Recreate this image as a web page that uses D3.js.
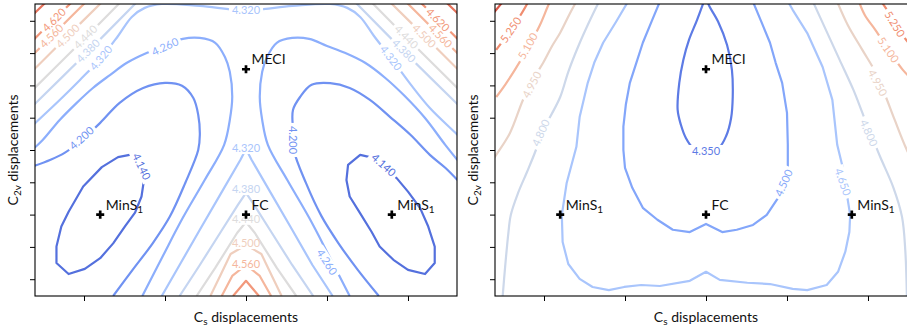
<!DOCTYPE html>
<html>
<head>
<meta charset="utf-8">
<script src="https://cdn.jsdelivr.net/npm/d3@7"></script>
<style>
  body { margin: 0; background: #fff; }
  text { font-family: Lato, "DejaVu Sans", sans-serif; }
</style>
</head>
<body>
<svg id="chart" width="907" height="329"></svg>
<script>
// ---- data (displacement units, x ticks -2..2, y ticks -2..6) ----
const xTicks = [-2, -1, 0, 1, 2];
const yTicks = [-2, -1, 0, 1, 2, 3, 4, 5, 6];
const points = [
  { name: "MECI", x: 0, y: 4.5 },
  { name: "FC", x: 0, y: 0 },
  { name: "MinS", sub: "1", x: -1.8, y: 0 },
  { name: "MinS", sub: "1", x: 1.8, y: 0 }
];

// left panel contours (energy levels 4.140 ... 4.680)
const L4140a = [[-1.39,1.87],[-1.58,1.78],[-1.78,1.47],[-2.01,0.87],[-2.19,0.09],[-2.28,-0.37],[-2.34,-0.99],[-2.34,-1.50],[-2.19,-1.84],[-1.99,-1.68],[-1.80,-1.35],[-1.64,-0.89],[-1.49,-0.35],[-1.37,0.06],[-1.29,0.56],[-1.26,1.07]];
const L4140b = [[1.86,1.13],[2.00,0.71],[2.15,0.20],[2.25,-0.37],[2.33,-0.99],[2.33,-1.50],[2.21,-1.84],[2.00,-1.71],[1.82,-1.40],[1.65,-0.99],[1.55,-0.53],[1.41,0.04],[1.28,0.56],[1.24,1.07],[1.26,1.54],[1.41,1.85],[1.53,1.78]];
const L4200a = [[-2.61,1.51],[-2.42,1.69],[-2.24,1.91],[-2.03,2.31],[-1.80,2.84],[-1.56,3.46],[-1.27,3.92],[-1.00,4.08],[-0.79,3.99],[-0.65,3.61],[-0.59,3.09],[-0.57,2.47],[-0.59,2.00],[-0.75,0.98],[-0.94,-0.06],[-1.15,-0.88],[-1.40,-1.71],[-1.64,-2.52]];
const L4200b = [[2.61,1.07],[2.46,1.45],[2.27,1.85],[2.03,2.47],[1.78,3.02],[1.53,3.55],[1.28,3.92],[1.04,4.07],[0.81,4.02],[0.67,3.65],[0.58,3.24],[0.58,2.62],[0.59,2.00],[0.74,0.98],[0.93,-0.04],[1.14,-0.88],[1.38,-1.71],[1.64,-2.52]];
const L4260a = [[-2.61,2.07],[-2.51,2.31],[-2.30,2.93],[-2.09,3.46],[-1.89,3.92],[-1.68,4.32],[-1.47,4.70],[-1.22,5.01],[-1.00,5.22],[-0.78,5.44],[-0.57,5.47],[-0.38,5.32],[-0.26,4.88],[-0.20,4.42],[-0.17,3.64],[-0.20,2.93],[-0.27,2.16],[-0.51,1.07],[-0.78,-0.10],[-1.02,-1.25],[-1.28,-2.52]];
const L4260b = [[2.61,1.69],[2.46,2.16],[2.21,2.99],[1.96,3.67],[1.72,4.23],[1.47,4.70],[1.22,5.01],[1.00,5.22],[0.78,5.44],[0.57,5.47],[0.38,5.32],[0.26,4.88],[0.20,4.42],[0.17,3.64],[0.20,2.93],[0.27,2.16],[0.51,1.07],[0.78,-0.10],[1.02,-1.25],[1.28,-2.52]];
const L4320a = [[-2.67,2.68],[-2.30,3.55],[-2.05,4.17],[-1.79,4.85],[-1.58,5.53],[-1.41,6.12],[-1.25,6.40],[-1.04,6.52],[-0.57,6.46],[0,6.32],[0.57,6.46],[1.04,6.52],[1.25,6.40],[1.41,6.12],[1.58,5.53],[1.79,4.85],[2.03,4.04],[2.27,3.30],[2.61,2.47],[2.67,2.31]];
const L4320c = [[-1.04,-2.52],[-0.82,-1.56],[-0.57,-0.47],[-0.32,0.61],[-0.07,1.69],[0,2.03],[0.07,1.69],[0.32,0.61],[0.57,-0.47],[0.82,-1.56],[1.07,-2.52]];
const L4380a = [[-2.67,3.27],[-1.99,4.95],[-1.32,6.65]];
const L4380b = [[2.67,3.27],[1.99,4.95],[1.32,6.65]];
const L4380c = [[-0.82,-2.52],[-0.57,-1.56],[-0.32,-0.57],[-0.10,0.30],[0,0.67],[0.10,0.30],[0.32,-0.57],[0.57,-1.56],[0.83,-2.52]];
const L4440a = [[-2.67,3.77],[-2.09,5.21],[-1.52,6.65]];
const L4440b = [[2.67,3.77],[2.09,5.21],[1.52,6.65]];
const L4440c = [[-0.61,-2.52],[-0.38,-1.65],[-0.11,-0.57],[0,-0.23],[0.11,-0.57],[0.38,-1.65],[0.62,-2.52]];
const L4500a = [[-2.67,4.36],[-2.21,5.51],[-1.75,6.65]];
const L4500b = [[2.67,4.36],[2.21,5.51],[1.75,6.65]];
const L4500c = [[-0.44,-2.52],[-0.32,-1.90],[-0.19,-1.22],[0,-0.94],[0.19,-1.22],[0.32,-1.90],[0.44,-2.52]];
const L4560a = [[-2.67,4.85],[-2.31,5.75],[-1.95,6.65]];
const L4560b = [[2.67,4.85],[2.31,5.75],[1.95,6.65]];
const L4560c = [[-0.30,-2.52],[-0.17,-1.90],[0,-1.56],[0.17,-1.90],[0.31,-2.52]];
const L4620a = [[-2.67,5.29],[-2.40,5.97],[-2.12,6.65]];
const L4620b = [[2.67,5.29],[2.40,5.97],[2.12,6.65]];
const L4620c = [[-0.16,-2.52],[0,-2.05],[0.16,-2.52]];
const L4680a = [[-2.67,6.09],[-2.44,6.65]];
const L4680b = [[2.67,6.09],[2.44,6.65]];

// label positions: [level, x, y, angle]
const leftLabels = [
  [4.14, -1.29, 1.49, 65], [4.14, 1.70, 1.54, 42],
  [4.20, -2.03, 2.37, -42], [4.20, 0.58, 2.31, 90],
  [4.26, -1.00, 5.20, -25], [4.26, 1.00, -1.47, 57],
  [4.32, 0, 6.32, 0], [4.32, -1.79, 4.85, -50], [4.32, 1.79, 4.85, 52], [4.32, 0, 2.06, 0],
  [4.38, 0, 0.79, 0], [4.38, -1.95, 5.07, -45], [4.38, 1.95, 5.07, 45],
  [4.44, 0, -0.13, 0], [4.44, -1.98, 5.50, -45], [4.44, 1.98, 5.50, 45],
  [4.50, 0, -0.88, 0], [4.50, -2.20, 5.53, -45], [4.50, 2.20, 5.53, 45],
  [4.56, 0, -1.53, 0], [4.56, -2.40, 5.53, -45], [4.56, 2.40, 5.53, 45],
  [4.62, -2.37, 6.03, -45], [4.62, 2.37, 6.03, 45]
];

// right panel contours (energy levels 4.350 ... 5.400)
const R4350 = [[-0.01,6.71],[-0.11,6.03],[-0.21,5.41],[-0.28,4.79],[-0.33,4.08],[-0.35,3.24],[-0.31,2.78],[-0.25,2.38],[-0.16,2.07],[0,1.94],[0.16,2.07],[0.25,2.44],[0.31,2.99],[0.33,3.64],[0.32,4.48],[0.26,5.25],[0.15,5.97],[0.04,6.46],[0,6.71]];
const R4500 = [[-0.56,6.65],[-0.67,5.99],[-0.78,5.32],[-0.86,4.70],[-0.94,4.08],[-0.99,3.40],[-1.02,2.72],[-1.02,2.00],[-1.00,1.45],[-0.91,0.83],[-0.78,0.21],[-0.60,-0.16],[-0.41,-0.47],[-0.20,-0.54],[0,-0.29],[0.20,-0.54],[0.38,-0.47],[0.58,-0.32],[0.75,-0.01],[0.89,0.52],[0.975,0.98],[1.01,1.38],[1.01,2.16],[1.00,3.15],[0.94,4.08],[0.86,4.70],[0.79,5.32],[0.68,5.99],[0.57,6.65]];
const R4650 = [[-0.95,6.65],[-1.11,5.97],[-1.27,5.32],[-1.38,4.70],[-1.46,4.08],[-1.56,3.02],[-1.60,2.10],[-1.72,0.98],[-1.78,-0.01],[-1.77,-0.85],[-1.70,-1.53],[-1.56,-1.99],[-1.40,-2.24],[-1.20,-2.34],[-1.01,-2.24],[-0.80,-2.18],[-0.57,-2.21],[-0.20,-2.05],[0,-1.77],[0.17,-2.02],[0.51,-2.11],[0.79,-2.15],[1.07,-2.30],[1.25,-2.34],[1.49,-2.18],[1.63,-1.77],[1.72,-1.15],[1.77,-0.54],[1.78,-0.01],[1.74,0.61],[1.68,1.54],[1.62,2.16],[1.56,3.55],[1.44,4.57],[1.25,5.62],[1.07,6.34],[1.00,6.65]];
const R4800a = [[-1.31,6.65],[-1.43,6.03],[-1.57,5.25],[-1.70,4.42],[-1.80,3.64],[-1.91,3.09],[-2.03,2.53],[-2.10,2.00],[-2.21,1.32],[-2.32,0.67],[-2.41,-0.01],[-2.44,-0.57],[-2.48,-1.62],[-2.51,-2.52]];
const R4800b = [[1.31,6.65],[1.48,5.72],[1.65,4.79],[1.82,3.86],[1.94,3.09],[2.03,2.53],[2.15,1.79],[2.31,0.86],[2.42,-0.07],[2.46,-1.09],[2.48,-2.52]];
const R4950a = [[-2.67,1.54],[-2.59,1.85],[-2.42,2.53],[-2.26,3.55],[-2.14,4.17],[-2.01,4.70],[-1.90,5.22],[-1.80,5.63],[-1.69,6.18],[-1.59,6.65]];
const R4950b = [[1.61,6.65],[1.75,5.87],[1.93,5.10],[2.09,4.42],[2.21,3.71],[2.33,2.93],[2.48,2.00],[2.61,1.38]];
const R5100a = [[-2.59,3.64],[-2.48,4.02],[-2.36,4.48],[-2.20,5.16],[-2.05,5.87],[-1.94,6.52],[-1.91,6.65]];
const R5100b = [[1.88,6.65],[1.96,6.18],[2.09,5.72],[2.27,5.04],[2.43,4.48],[2.61,4.02]];
const R5250a = [[-2.59,5.10],[-2.48,5.47],[-2.36,5.90],[-2.21,6.52],[-2.19,6.65]];
const R5250b = [[2.15,6.65],[2.25,6.28],[2.36,5.84],[2.48,5.38],[2.61,5.04]];
const R5400a = [[-2.67,6.09],[-2.59,6.34],[-2.49,6.65]];

const rightLabels = [
  [4.35, 0, 1.97, 0],
  [4.50, 0.96, 0.98, -66],
  [4.65, 1.69, 1.01, 70],
  [4.80, -2.04, 2.53, -66], [4.80, 2.01, 2.53, 66],
  [4.95, -2.15, 4.02, -62], [4.95, 2.12, 4.08, 62],
  [5.10, -2.20, 5.22, -60], [5.10, 2.25, 5.10, 55],
  [5.25, -2.41, 5.72, -55], [5.25, 2.33, 5.90, 58]
];

// ---- tables built from the arrays ----
const leftLines = [
  { level: 4.14, pts: L4140a, closed: true }, { level: 4.14, pts: L4140b, closed: true },
  { level: 4.20, pts: L4200a }, { level: 4.20, pts: L4200b },
  { level: 4.26, pts: L4260a }, { level: 4.26, pts: L4260b },
  { level: 4.32, pts: L4320a }, { level: 4.32, pts: L4320c, linear: true },
  { level: 4.38, pts: L4380a }, { level: 4.38, pts: L4380b }, { level: 4.38, pts: L4380c, linear: true },
  { level: 4.44, pts: L4440a }, { level: 4.44, pts: L4440b }, { level: 4.44, pts: L4440c, linear: true },
  { level: 4.50, pts: L4500a }, { level: 4.50, pts: L4500b }, { level: 4.50, pts: L4500c, linear: true },
  { level: 4.56, pts: L4560a }, { level: 4.56, pts: L4560b }, { level: 4.56, pts: L4560c, linear: true },
  { level: 4.62, pts: L4620a }, { level: 4.62, pts: L4620b }, { level: 4.62, pts: L4620c, linear: true },
  { level: 4.68, pts: L4680a }, { level: 4.68, pts: L4680b }
];
const rightLines = [
  { level: 4.35, pts: R4350 },
  { level: 4.50, pts: R4500, linear: true },
  { level: 4.65, pts: R4650, linear: true },
  { level: 4.80, pts: R4800a }, { level: 4.80, pts: R4800b },
  { level: 4.95, pts: R4950a }, { level: 4.95, pts: R4950b },
  { level: 5.10, pts: R5100a }, { level: 5.10, pts: R5100b },
  { level: 5.25, pts: R5250a }, { level: 5.25, pts: R5250b },
  { level: 5.40, pts: R5400a }
];

const panels = [
  { x0: 35, x1: 457, lines: leftLines, labels: leftLabels, vmin: 4.08, vmax: 4.80 },
  { x0: 495, x1: 917, lines: rightLines, labels: rightLabels, vmin: 4.20, vmax: 5.55 }
];

// ---- drawing ----
const W = 907, H = 329;
const yTop = 4, yBot = 296;
const svg = d3.select("#chart");
const defs = svg.append("defs");

const cw = ["#3b4cc0","#5977e3","#7b9ff9","#9ebeff","#c0d4f5","#dddcdc","#f2cbb7","#f7ac8e","#ee8468","#d65244","#b40426"];
const coolwarm = d3.scaleLinear().domain(d3.range(11).map(i => i / 10)).range(cw).clamp(true);

const y = d3.scaleLinear().domain([-2.52, 6.52]).range([yBot, yTop]);

panels.forEach((P, pi) => {
  const x = d3.scaleLinear().domain([-2.605, 2.605]).range([P.x0, P.x1]);
  const color = lev => coolwarm((lev - P.vmin) / (P.vmax - P.vmin));

  defs.append("clipPath").attr("id", "clip" + pi)
    .append("rect").attr("x", P.x0).attr("y", yTop)
    .attr("width", P.x1 - P.x0).attr("height", yBot - yTop);

  const lineG = svg.append("g").attr("clip-path", `url(#clip${pi})`);
  const labG = svg.append("g");

  // labels first, so their widths can cut the lines
  const labs = P.labels.map(([lev, lx, ly, ang]) => {
    const t = labG.append("text")
      .attr("transform", `translate(${x(lx)},${y(ly)}) rotate(${ang})`)
      .attr("text-anchor", "middle").attr("dy", "0.36em")
      .attr("font-size", 11).attr("fill", color(lev))
      .text(lev.toFixed(3));
    return { lev, lx, ly, ang, w: t.node().getComputedTextLength() };
  });

  const levels = Array.from(new Set(P.lines.map(d => d.level)));
  levels.forEach(lev => {
    const m = defs.append("mask").attr("id", `m${pi}_${Math.round(lev * 1000)}`)
      .attr("maskUnits", "userSpaceOnUse")
      .attr("x", 0).attr("y", 0).attr("width", W).attr("height", H);
    m.append("rect").attr("width", W).attr("height", H).attr("fill", "white");
    labs.filter(l => l.lev === lev).forEach(l => {
      m.append("rect")
        .attr("transform", `translate(${x(l.lx)},${y(l.ly)}) rotate(${l.ang})`)
        .attr("x", -l.w / 2 - 3).attr("y", -6)
        .attr("width", l.w + 6).attr("height", 12).attr("fill", "black");
    });
  });

  P.lines.forEach(d => {
    const curve = d.closed ? d3.curveLinearClosed
      : d.linear ? d3.curveLinear : d3.curveCatmullRom.alpha(0.5);
    const line = d3.line().x(p => x(p[0])).y(p => y(p[1])).curve(curve);
    lineG.append("path")
      .attr("d", line(d.pts))
      .attr("fill", "none")
      .attr("stroke", color(d.level))
      .attr("stroke-width", 2.2)
      .attr("stroke-linejoin", "round")
      .attr("mask", `url(#m${pi}_${Math.round(d.level * 1000)})`);
  });

  // axes
  svg.append("g").attr("transform", `translate(0,${yBot})`)
    .call(d3.axisBottom(x).tickValues(xTicks).tickFormat("").tickSize(5).tickSizeOuter(0))
    .call(g => g.select(".domain").remove())
    .call(g => g.selectAll("line").attr("stroke", "#000"));
  svg.append("g").attr("transform", `translate(${P.x0},0)`)
    .call(d3.axisLeft(y).tickValues(yTicks).tickFormat("").tickSize(5).tickSizeOuter(0))
    .call(g => g.select(".domain").remove())
    .call(g => g.selectAll("line").attr("stroke", "#000"));

  svg.append("rect")
    .attr("x", P.x0).attr("y", yTop)
    .attr("width", P.x1 - P.x0).attr("height", yBot - yTop)
    .attr("fill", "none").attr("stroke", "#000").attr("stroke-width", 1.1);

  // marked geometries
  points.forEach(p => {
    svg.append("path")
      .attr("transform", `translate(${x(p.x)},${y(p.y)})`)
      .attr("d", d3.symbol(d3.symbolCross, 36)())
      .attr("fill", "#000");
    const t = svg.append("text")
      .attr("x", x(p.x) + 5.5).attr("y", y(p.y) - 4.8)
      .attr("font-size", 14).attr("fill", "#111")
      .text(p.name);
    if (p.sub) t.append("tspan").attr("dy", 3).attr("font-size", 10).text(p.sub);
  });

  // axis titles
  const xt = svg.append("text")
    .attr("x", x(0)).attr("y", 321.5)
    .attr("text-anchor", "middle").attr("font-size", 14).attr("fill", "#111");
  xt.append("tspan").text("C");
  xt.append("tspan").attr("dy", 3).attr("font-size", 10).text("s");
  xt.append("tspan").attr("dy", -3).text(" displacements");

  const yt = svg.append("text")
    .attr("transform", `translate(${P.x0 - 17},${(yTop + yBot) / 2}) rotate(-90)`)
    .attr("text-anchor", "middle").attr("font-size", 14).attr("fill", "#111");
  yt.append("tspan").text("C");
  yt.append("tspan").attr("dy", 3).attr("font-size", 10).text("2v");
  yt.append("tspan").attr("dy", -3).text(" displacements");
});
</script>
</body>
</html>
